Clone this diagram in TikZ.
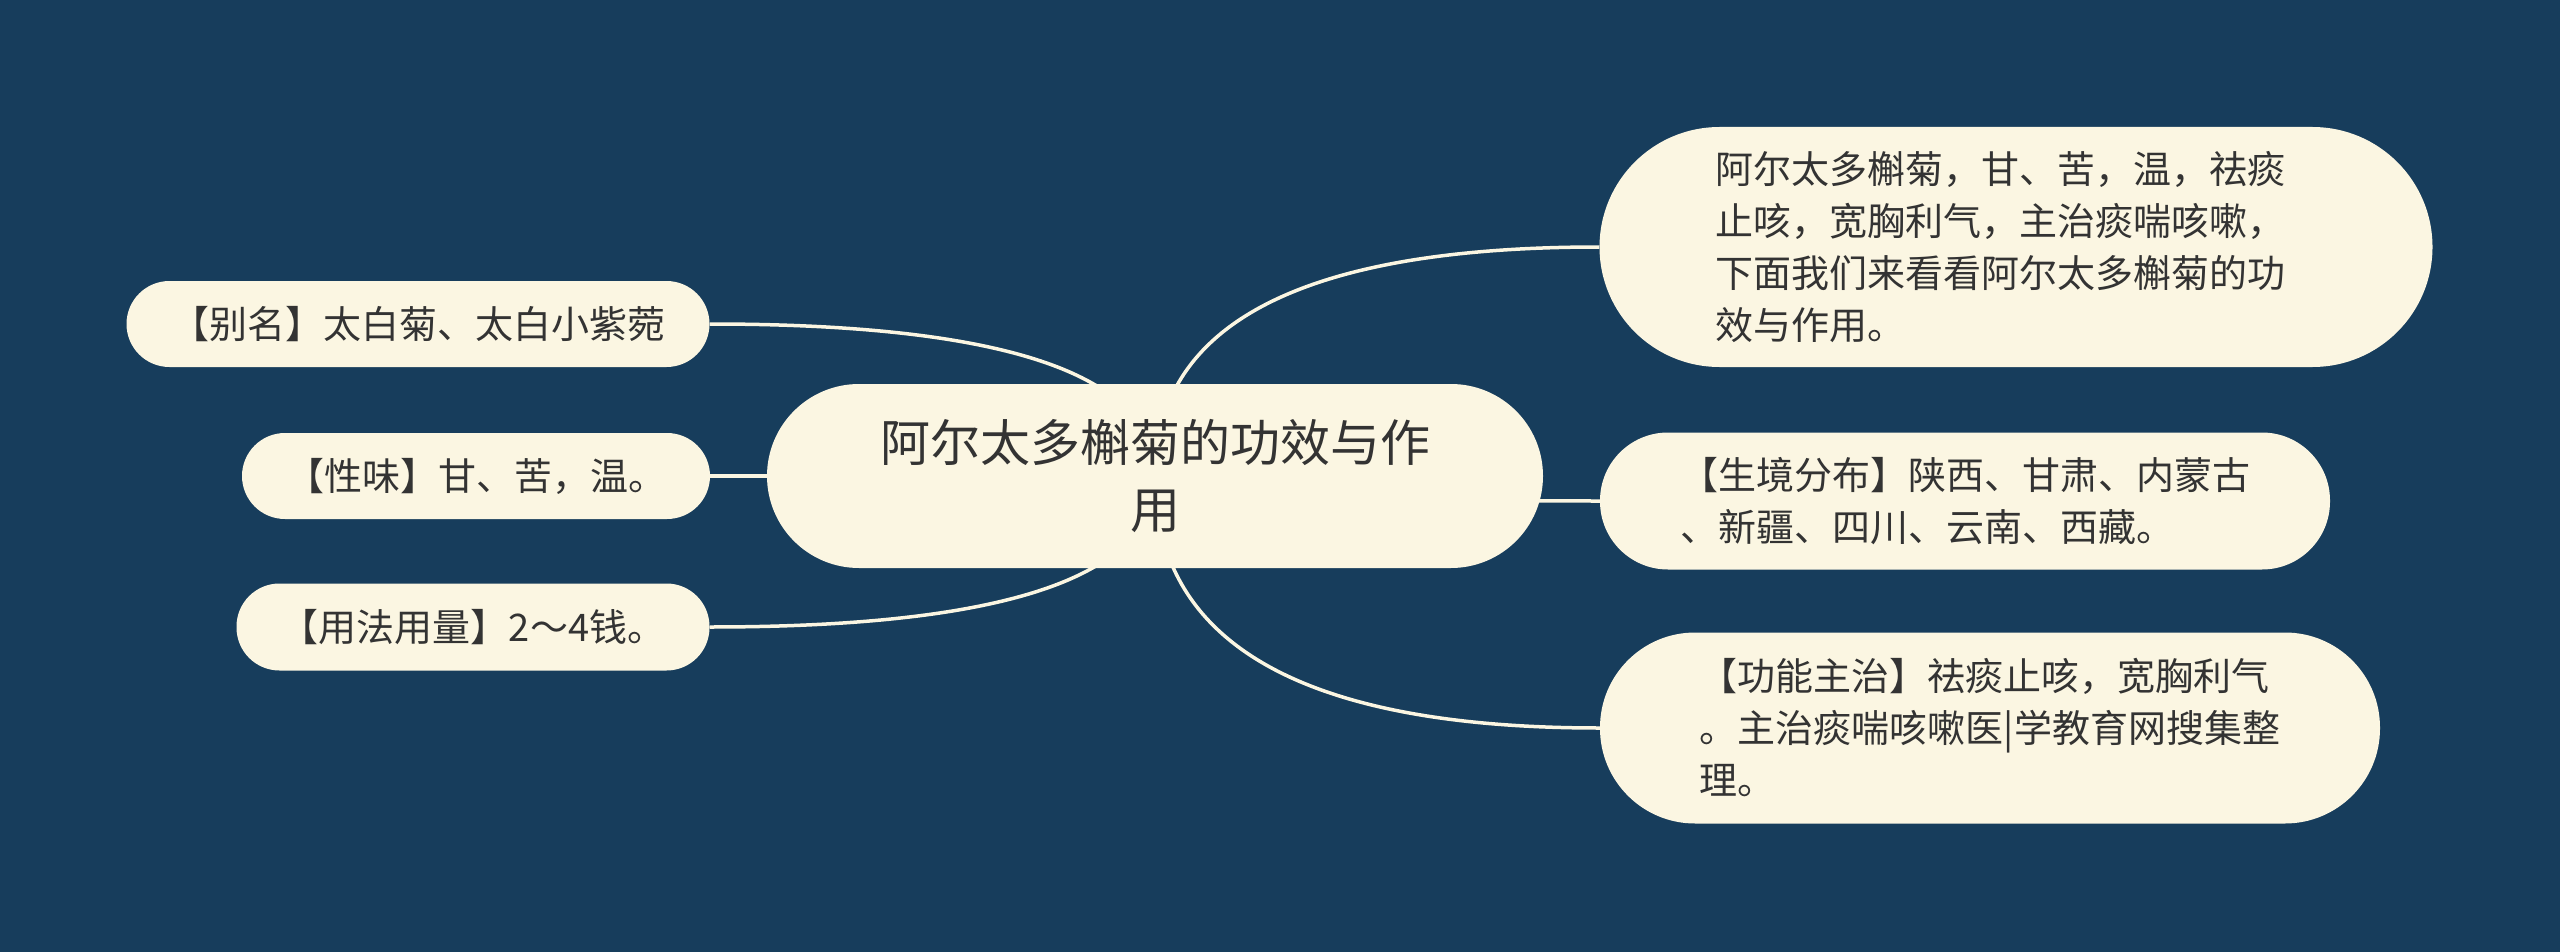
\documentclass[tikz,border=0pt]{standalone}
\usepackage{fontspec}
\setmainfont{Noto Sans CJK SC}
\usetikzlibrary{calc}
\definecolor{bgc}{HTML}{173D5C}
\definecolor{cream}{HTML}{FBF6E2}
\definecolor{ink}{HTML}{333333}
\pgfdeclarelayer{bglayer}
\pgfdeclarelayer{links}
\pgfsetlayers{bglayer,links,main}
\begin{document}
\begin{tikzpicture}[x=1pt,y=-1pt,
  pill/.style={fill=cream,text=ink,align=left,inner sep=0pt,font=\fontsize{38}{52}\selectfont},
  link/.style={draw=cream,line width=3.5pt}]
\begin{pgfonlayer}{bglayer}
\fill[bgc] (0,0) rectangle (2560,952);
\end{pgfonlayer}
% center
\node[pill, minimum width=776pt, minimum height=184pt, rounded corners=92pt, align=center,
      font=\fontsize{50}{67}\selectfont] (c) at (1155,476) {阿尔太多槲菊的功效与作\\用};
% left
\node[pill, minimum width=583pt, minimum height=86pt, rounded corners=43pt] (l1) at (418,324) {【别名】太白菊、太白小紫菀};
\node[pill, minimum width=468pt, minimum height=86pt, rounded corners=43pt] (l2) at (476,476) {【性味】甘、苦，温。};
\node[pill, minimum width=473pt, minimum height=87pt, rounded corners=43pt] (l3) at (473,627) {【用法用量】2～4钱。};
% right
\node[pill, minimum width=833pt, minimum height=240pt, rounded corners=120pt, text width=602pt] (r1) at (2016,247)
  {阿尔太多槲菊，甘、苦，温，祛痰\\止咳，宽胸利气，主治痰喘咳嗽，\\下面我们来看看阿尔太多槲菊的功\\效与作用。};
\node[pill, minimum width=730pt, minimum height=137pt, rounded corners=68pt] (r2) at (1965,501)
  {【生境分布】陕西、甘肃、内蒙古\\、新疆、四川、云南、西藏。};
\node[pill, minimum width=780pt, minimum height=191pt, rounded corners=95pt] (r3) at (1990,728)
  {【功能主治】祛痰止咳，宽胸利气\\。主治痰喘咳嗽医|学教育网搜集整\\理。};
% connectors
\begin{pgfonlayer}{links}
\foreach \n in {l1,l2,l3}{
  \coordinate (k\n) at (c.center|-\n.east);
  \draw[link] (c.center) .. controls ($(c.center)!0.6667!(k\n)$) and ($(\n.east)!0.6667!(k\n)$) .. (\n.east);
}
\foreach \n in {r1,r2,r3}{
  \coordinate (k\n) at (c.center|-\n.west);
  \draw[link] (c.center) .. controls ($(c.center)!0.6667!(k\n)$) and ($(\n.west)!0.6667!(k\n)$) .. (\n.west);
}
\end{pgfonlayer}
\end{tikzpicture}
\end{document}
